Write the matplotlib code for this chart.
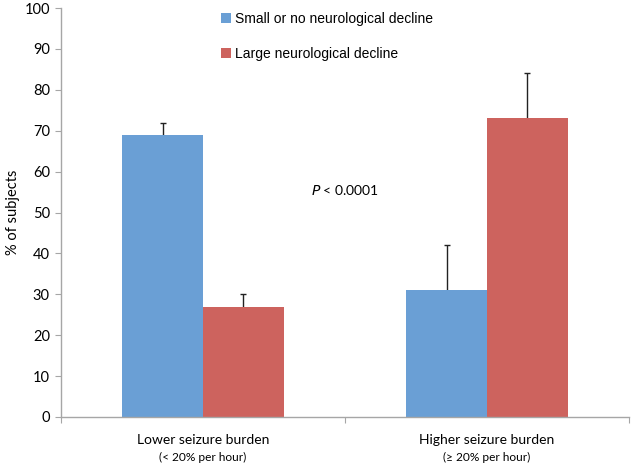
import matplotlib
matplotlib.use("Agg")
import matplotlib.pyplot as plt
import numpy as np
from matplotlib.transforms import blended_transform_factory

categories = ["Lower seizure burden", "Higher seizure burden"]
subtitles = ["(< 20% per hour)", "(\u2265 20% per hour)"]
series_names = ["Small or no neurological decline", "Large neurological decline"]
small_vals = [69, 31]
small_err = [3, 11]
large_vals = [27, 73]
large_err = [3, 11]
yticks = [0, 10, 20, 30, 40, 50, 60, 70, 80, 90, 100]
p_text = "< 0.0001"

blue = "#6A9FD5"
red = "#CD635E"
gray = "#A6A6A6"

fig = plt.figure(figsize=(6.33, 4.66), dpi=100)
ax = fig.add_axes([61/633, 1-417/466, (629-61)/633, (417-8)/466])

x = np.arange(len(categories))
w = 0.285
ax.bar(x - w/2, small_vals, w, color=blue, label=series_names[0], zorder=2)
ax.bar(x + w/2, large_vals, w, color=red, label=series_names[1], zorder=2)
eb = dict(fmt="none", ecolor="#222222", elinewidth=1.0, capsize=2.5, capthick=1.0, zorder=1)
ax.errorbar(x - w/2, small_vals, yerr=small_err, **eb)
ax.errorbar(x + w/2, large_vals, yerr=large_err, **eb)

ax.set_xlim(-0.5, 1.5)
ax.set_ylim(0, 100)
ax.set_yticks(yticks)
ax.set_yticklabels([str(t) for t in yticks], fontfamily="Lato", fontsize=10.5)
ax.tick_params(axis="y", direction="out", length=4, color=gray, pad=4)
ax.set_xticks([-0.5, 0.5, 1.5])
ax.set_xticklabels([])
ax.tick_params(axis="x", direction="out", length=4, color=gray)
for s in ["top", "right"]:
    ax.spines[s].set_visible(False)
for s in ["left", "bottom"]:
    ax.spines[s].set_color(gray)
    ax.spines[s].set_linewidth(1.0)

ax.set_ylabel("% of subjects", fontfamily="Lato", fontsize=10.5, labelpad=3)

tr = blended_transform_factory(ax.transData, fig.transFigure)
for i, (c, s) in enumerate(zip(categories, subtitles)):
    ax.text(x[i], 1-440/466, c, transform=tr, ha="center", va="center",
            fontfamily="Lato", fontsize=10)
    ax.text(x[i], 1-457/466, s, transform=tr, ha="center", va="center",
            fontfamily="Lato", fontsize=8.6)

ax.text(0.5, 55.5, r"$\mathit{P}$ " + p_text, ha="center", va="center",
        fontfamily="Lato", fontsize=10)

leg = fig.legend(loc="upper left", bbox_to_anchor=(211/633, 1-2/466),
                 frameon=False, prop={"family": "Liberation Sans", "size": 10},
                 handlelength=0.75, handleheight=0.75, handletextpad=0.25,
                 labelspacing=1.55, borderpad=0.2)

fig.savefig("out.png", dpi=100)
